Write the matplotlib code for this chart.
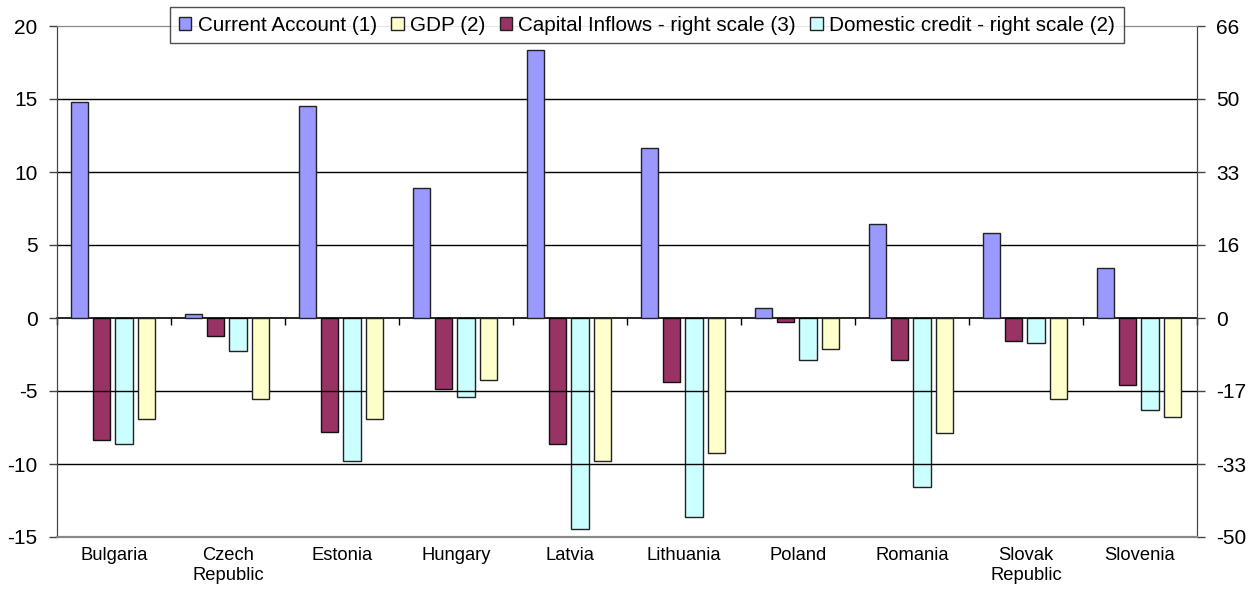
import numpy as np
import matplotlib
matplotlib.use("Agg")
import matplotlib.pyplot as plt
from matplotlib.patches import Patch

plt.rcParams['font.family'] = ['Liberation Sans', 'DejaVu Sans']

# datos
paises = ["Bulgaria", "Czech\nRepublic", "Estonia", "Hungary", "Latvia",
          "Lithuania", "Poland", "Romania", "Slovak\nRepublic", "Slovenia"]
cuenta_corriente = [14.82, 0.25, 14.53, 8.92, 18.37, 11.65, 0.71, 6.45, 5.83, 3.43]
pib = [-6.93, -5.58, -6.93, -4.23, -9.79, -9.24, -2.13, -7.87, -5.58, -6.77]
# escala derecha
flujos_capital = [-27.6, -4.0, -25.7, -16.0, -28.4, -14.5, -0.8, -9.5, -5.3, -15.2]
credito_interno = [-28.4, -7.4, -32.3, -17.9, -47.7, -44.9, -9.4, -38.3, -5.6, -20.8]

ticks_izq = [-15, -10, -5, 0, 5, 10, 15, 20]
ticks_der = ["-50", "-33", "-17", "0", "16", "33", "50", "66"]
escala = 3.3

c_azul = "#9999FF"
c_granate = "#993366"
c_cian = "#CCFFFF"
c_amarillo = "#FFFFCC"

fig = plt.figure(figsize=(12.54, 5.92), dpi=100)
ax = fig.add_axes([57/1254, 55/592, 1140/1254, 511/592])
ax2 = ax.twinx()

x = np.arange(len(paises))
w = 0.15
off = [-0.3025, -0.1075, 0.0875, 0.2825]

ax.bar(x + off[0], cuenta_corriente, w, color=c_azul, edgecolor="#222222", linewidth=1, zorder=3)
ax.bar(x + off[3], pib, w, color=c_amarillo, edgecolor="#222222", linewidth=1, zorder=3)
ax2.bar(x + off[1], flujos_capital, w, color=c_granate, edgecolor="#111111", linewidth=1, zorder=3)
ax2.bar(x + off[2], credito_interno, w, color=c_cian, edgecolor="#222222", linewidth=1, zorder=3)

ax.set_xlim(-0.5, len(paises) - 0.5)
ax.set_ylim(-15, 20)
ax2.set_ylim(-15 * escala, 20 * escala)

ax.set_yticks(ticks_izq)
ax.set_yticklabels([str(t) for t in ticks_izq], fontsize=15)
ax2.set_yticks([t * escala for t in ticks_izq])
ax2.set_yticklabels(ticks_der, fontsize=15)

for t in [-10, -5, 5, 10, 15]:
    ax.axhline(t, color="black", linewidth=1, zorder=1)

ax.set_xticks(x)
ax.set_xticklabels(paises, fontsize=13.2, linespacing=1.25)
ax.tick_params(axis="x", length=0, pad=7)
ax.tick_params(axis="y", direction="out", length=6, width=1, color="#444444", pad=8)
ax2.tick_params(axis="y", direction="out", length=6, width=1, color="#444444", pad=8)

# eje de categorias en el cero
eje0 = ax.secondary_xaxis(15 / 35)
eje0.set_xticks(np.arange(len(paises) + 1) - 0.5)
eje0.set_xticklabels([])
eje0.tick_params(axis="x", direction="out", length=5, width=1, color="black")
eje0.spines["bottom"].set_color("black")
eje0.spines["bottom"].set_linewidth(1.2)

for a in (ax, ax2):
    a.spines["top"].set_color("#888888")
    a.spines["bottom"].set_color("#888888")
    a.spines["bottom"].set_linewidth(1.5)
    a.spines["left"].set_color("#444444")
    a.spines["right"].set_color("#444444")

ax.set_zorder(2)
ax.patch.set_visible(False)
ax2.set_zorder(1)

handles = [Patch(facecolor=c_azul, edgecolor="#222222"),
           Patch(facecolor=c_amarillo, edgecolor="#222222"),
           Patch(facecolor=c_granate, edgecolor="#222222"),
           Patch(facecolor=c_cian, edgecolor="#222222")]
labels = ["Current Account (1)", "GDP (2)", "Capital Inflows - right scale (3)",
          "Domestic credit - right scale (2)"]
leg = fig.legend(handles, labels, loc="upper center", bbox_to_anchor=(647/1254, 1 - 7/592),
                 ncol=4, fontsize=14.9, frameon=True, fancybox=False, edgecolor="#222222",
                 handlelength=0.6, handleheight=0.6, handletextpad=0.3, columnspacing=0.7,
                 borderpad=0.42, borderaxespad=0)
leg.get_frame().set_linewidth(1)
leg.set_zorder(10)

fig.savefig("out.png", dpi=100)
